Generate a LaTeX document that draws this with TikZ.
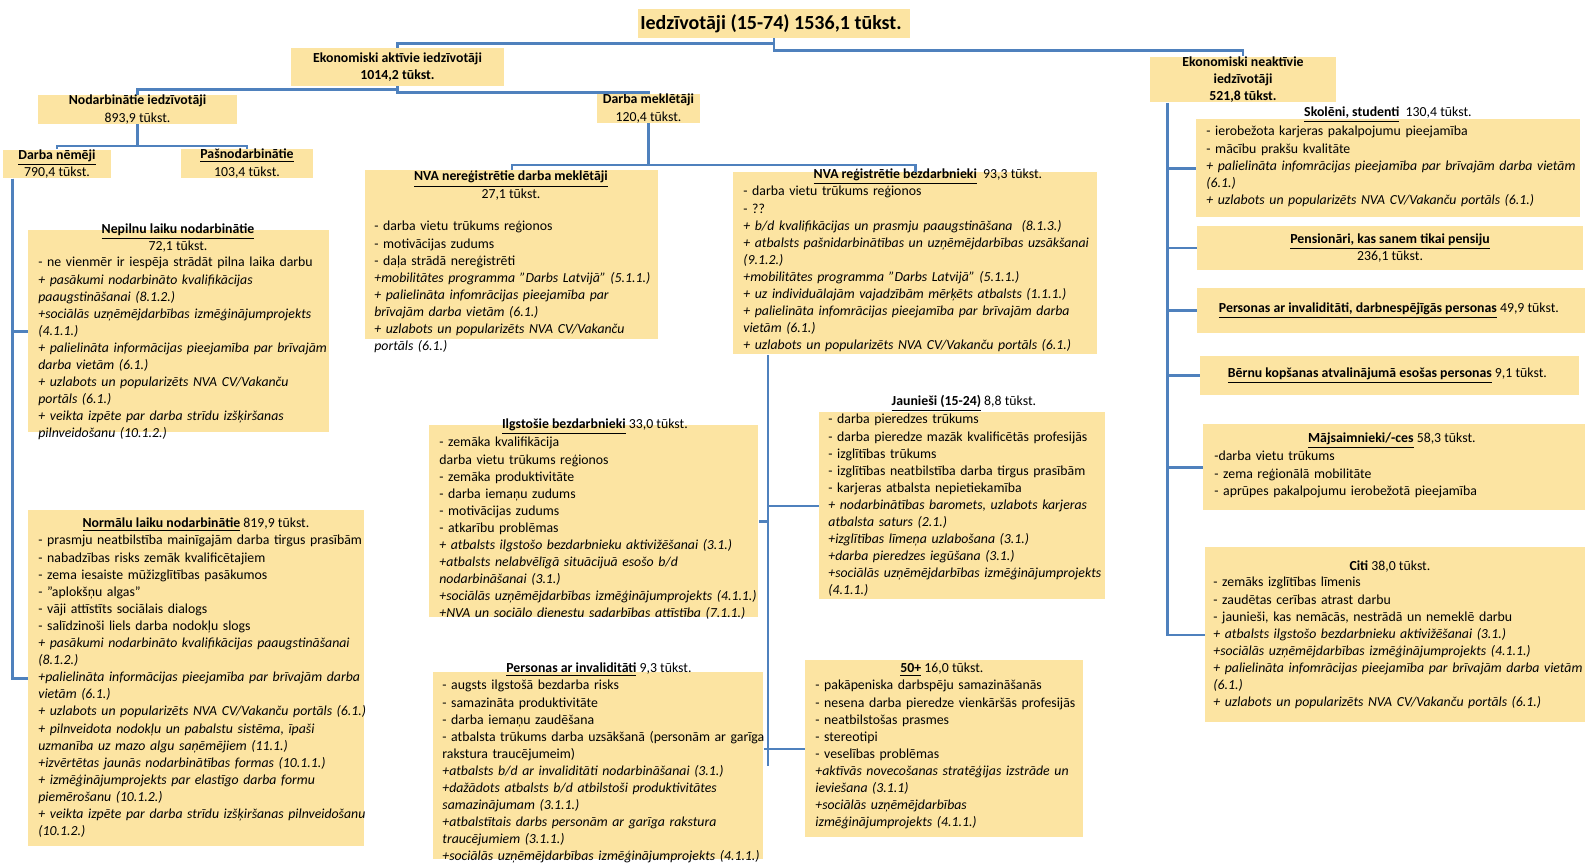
\documentclass[tikz,border=0pt]{standalone}
\usepackage{fontspec}
\setmainfont{Carlito}
\usepackage{tikz}
\usetikzlibrary{positioning}
\usetikzlibrary{calc}

\definecolor{boxgold}{RGB}{252,228,162}
\definecolor{linkblue}{RGB}{79,129,189}

\newcommand{\bodyfont}{\fontsize{6.9}{8.55}\selectfont}
\newcommand{\titlefont}{\fontsize{10}{12}\selectfont\bfseries}
\newcommand{\ubf}[1]{\underline{\textbf{#1}}}

\tikzset{
    block/.style={
           rectangle,
           fill=boxgold,
           inner sep=0pt,
           align=center,
           font=\bodyfont,
           },
    panel/.style={
           rectangle,
           fill=boxgold,
           anchor=north west,
           inner sep=0pt,
           },
    boxtitle/.style={
           inner sep=0pt,
           align=center,
           font=\bodyfont,
           },
    boxtext/.style={
           anchor=north west,
           inner sep=0pt,
           align=left,
           text width=210pt,
           font=\bodyfont,
           },
    wire/.style={
           draw=linkblue,
           line width=1.3pt,
           },
}

\begin{document}
\begin{tikzpicture}[x=0.5pt,y=-0.5pt]
 \useasboundingbox (0,0) rectangle (1585,865);

 % Top node: whole population
 \node[block,
 minimum width=136pt,
 minimum height=14.5pt,
 font=\titlefont] (pop) at (774,23.5)
 {%
Iedzīvotāji (15-74) 1536,1 tūkst.
 };

 % Next level: active / inactive
 \node[block,
 minimum width=106.5pt,
 minimum height=19pt,
 font=\bodyfont\bfseries] (aktivie) at (397.5,67)
 {%
Ekonomiski aktīvie iedzīvotāji\\1014,2 tūkst.
 };

 \node[block,
 minimum width=93pt,
 minimum height=22.5pt,
 font=\bodyfont\bfseries] (neaktivie) at (1243,79.5)
 {%
Ekonomiski neaktīvie\\iedzīvotāji\\521,8 tūkst.
 };

 % Employed / job seekers
 \node[block,
 minimum width=99.5pt,
 minimum height=13.5pt] (nodarb) at (137.5,109.5)
 {%
\textbf{Nodarbinātie iedzīvotāji}\\893,9 tūkst.
 };

 \node[block,
 minimum width=51.5pt,
 minimum height=13.5pt] (meklet) at (648.5,108.5)
 {%
\textbf{Darba meklētāji}\\120,4 tūkst.
 };

 \node[block,
 minimum width=54pt,
 minimum height=13.5pt] (nemeji) at (57,164)
 {%
\ubf{Darba nēmēji}\\790,4 tūkst.
 };

 \node[block,
 minimum width=66pt,
 minimum height=13pt] (pasnod) at (247,163.5)
 {%
\ubf{Pašnodarbinātie}\\103,4 tūkst.
 };

 % Next node: part time
 \node[panel, minimum width=150.5pt, minimum height=101pt] (nepilnu) at (28,230) {};
 \node[boxtitle] (nepilnuH) at (178,238)
 {%
\ubf{Nepilnu laiku nodarbinātie}\\72,1 tūkst.
 };
 \node[boxtext] (nepilnuT) at (38,257)
 {%
- ne vienmēr ir iespēja strādāt pilna laika darbu\\
\itshape + pasākumi nodarbināto kvalifikācijas\\
paaugstināšanai (8.1.2.)\\
+sociālās uzņēmējdarbības izmēģinājumprojekts\\
(4.1.1.)\\
+ palielināta informācijas pieejamība par brīvajām\\
darba vietām (6.1.)\\
+ uzlabots un popularizēts NVA CV/Vakanču\\
portāls (6.1.)\\
+ veikta izpēte par darba strīdu izšķiršanas\\
pilnveidošanu (10.1.2.)
 };

 % Next node: full time
 \node[panel, minimum width=168pt, minimum height=168pt] (normalu) at (28,510) {};
 \node[boxtitle] (normaluH) at (198,525)
 {%
\ubf{Normālu laiku nodarbinātie} 819,9 tūkst.
 };
 \node[boxtext] (normaluT) at (38,535)
 {%
- prasmju neatbilstība mainīgajām darba tirgus prasībām\\
- nabadzības risks zemāk kvalificētajiem\\
- zema iesaiste mūžizglītības pasākumos\\
- "aplokšņu algas"\\
- vāji attīstīts sociālais dialogs\\
- salīdzinoši liels darba nodokļu slogs\\
\itshape + pasākumi nodarbināto kvalifikācijas paaugstināšanai\\
(8.1.2.)\\
+palielināta informācijas pieejamība par brīvajām darba\\
vietām (6.1.)\\
+ uzlabots un popularizēts NVA CV/Vakanču portāls (6.1.)\\
+ pilnveidota nodokļu un pabalstu sistēma, īpaši\\
uzmanība uz mazo algu saņēmējiem (11.1.)\\
+izvērtētas jaunās nodarbinātības formas (10.1.1.)\\
+ izmēģinājumprojekts par elastīgo darba formu\\
piemērošanu (10.1.2.)\\
+ veikta izpēte par darba strīdu izšķiršanas pilnveidošanu\\
(10.1.2.)
 };

 % Next node: not registered job seekers
 \node[panel, minimum width=146.5pt, minimum height=84.5pt] (nereg) at (365,170) {};
 \node[boxtitle] (neregH) at (511,185.5)
 {%
\ubf{NVA nereģistrētie darba meklētāji}\\27,1 tūkst.
 };
 \node[boxtext] (neregT) at (374,221)
 {%
- darba vietu trūkums reģionos\\
- motivācijas zudums\\
- daļa strādā nereģistrēti\\
\itshape +mobilitātes programma "Darbs Latvijā" (5.1.1.)\\
+ palielināta infomrācijas pieejamība par\\
brīvajām darba vietām (6.1.)\\
+ uzlabots un popularizēts NVA CV/Vakanču\\
portāls (6.1.)
 };

 % Next node: registered unemployed
 \node[panel, minimum width=182pt, minimum height=91pt] (regbez) at (733,172) {};
 \node[boxtitle] (regbezH) at (930,177)
 {%
\ubf{NVA reģistrētie bezdarbnieki}\ \ 93,3 tūkst.
 };
 \node[boxtext] (regbezT) at (743,186)
 {%
- darba vietu trūkums reģionos\\
- ??\\
\itshape + b/d kvalifikācijas un prasmju paaugstināšana\ \ (8.1.3.)\\
+ atbalsts pašnidarbinātības un uzņēmējdarbības uzsākšanai\\
(9.1.2.)\\
+mobilitātes programma "Darbs Latvijā" (5.1.1.)\\
+ uz individuālajām vajadzībām mērķēts atbalsts (1.1.1.)\\
+ palielināta infomrācijas pieejamība par brīvajām darba\\
vietām (6.1.)\\
+ uzlabots un popularizēts NVA CV/Vakanču portāls (6.1.)
 };

 % Next node: long term unemployed
 \node[panel, minimum width=164.5pt, minimum height=96pt] (ilgst) at (429,425) {};
 \node[boxtitle] (ilgstH) at (597,427)
 {%
\ubf{Ilgstošie bezdarbnieki} 33,0 tūkst.
 };
 \node[boxtext] (ilgstT) at (439,437)
 {%
- zemāka kvalifikācija\\
darba vietu trūkums reģionos\\
- zemāka produktivitāte\\
- darba iemaņu zudums\\
- motivācijas zudums\\
- atkarību problēmas\\
\itshape + atbalsts ilgstošo bezdarbnieku aktivižēšanai (3.1.)\\
+atbalsts nelabvēlīgā situācijuā esošo b/d\\
nodarbināšanai (3.1.)\\
+sociālās uzņēmējdarbības izmēģinājumprojekts (4.1.1.)\\
+NVA un sociālo dienestu sadarbības attīstība (7.1.1.)
 };

 % Next node: youth
 \node[panel, minimum width=143pt, minimum height=93.5pt] (jaun) at (819,412) {};
 \node[boxtitle] (jaunH) at (966,403)
 {%
\ubf{Jaunieši (15-24)} 8,8 tūkst.
 };
 \node[boxtext] (jaunT) at (828,414)
 {%
- darba pieredzes trūkums\\
- darba pieredze mazāk kvalificētās profesijās\\
- izglītības trūkums\\
- izglītības neatbilstība darba tirgus prasībām\\
- karjeras atbalsta nepietiekamība\\
\itshape + nodarbinātības baromets, uzlabots karjeras\\
atbalsta saturs (2.1.)\\
+izglītības līmeņa uzlabošana (3.1.)\\
+darba pieredzes iegūšana (3.1.)\\
+sociālās uzņēmējdarbības izmēģinājumprojekts\\
(4.1.1.)
 };

 % Next node: disabled unemployed
 \node[panel, minimum width=165pt, minimum height=93.5pt] (pinv) at (433,672) {};
 \node[boxtitle] (pinvH) at (601,670)
 {%
\ubf{Personas ar invaliditāti} 9,3 tūkst.
 };
 \node[boxtext] (pinvT) at (442,680)
 {%
- augsts ilgstošā bezdarba risks\\
- samazināta produktivitāte\\
- darba iemaņu zaudēšana\\
- atbalsta trūkums darba uzsākšanā (personām ar garīga\\
rakstura traucējumeim)\\
\itshape +atbalsts b/d ar invaliditāti nodarbināšanai (3.1.)\\
+dažādots atbalsts b/d atbilstoši produktivitātes\\
samazinājumam (3.1.1.)\\
+atbalstītais darbs personām ar garīga rakstura\\
traucējumiem (3.1.1.)\\
+sociālās uzņēmējdarbības izmēģinājumprojekts (4.1.1.)
 };

 % Next node: 50+
 \node[panel, minimum width=139pt, minimum height=88.5pt] (p50) at (805,660) {};
 \node[boxtitle] (p50H) at (944,670)
 {%
\ubf{50+} 16,0 tūkst.
 };
 \node[boxtext] (p50T) at (815,680)
 {%
- pakāpeniska darbspēju samazināšanās\\
- nesena darba pieredze vienkāršās profesijās\\
- neatbilstošas prasmes\\
- stereotipi\\
- veselības problēmas\\
\itshape +aktīvās novecošanas stratēģijas izstrāde un\\
ieviešana (3.1.1)\\
+sociālās uzņēmējdarbības\\
izmēģinājumprojekts (4.1.1.)
 };

 % Inactive: pupils, students
 \node[panel, minimum width=192pt, minimum height=49pt] (skoleni) at (1196,119) {};
 \node[boxtitle] (skoleniH) at (1390,115)
 {%
\ubf{Skolēni, studenti}\ \ 130,4 tūkst.
 };
 \node[boxtext] (skoleniT) at (1206,126)
 {%
- ierobežota karjeras pakalpojumu pieejamība\\
- mācību prakšu kvalitāte\\
\itshape + palielināta infomrācijas pieejamība par brīvajām darba vietām\\
(6.1.)\\
+ uzlabots un popularizēts NVA CV/Vakanču portāls (6.1.)
 };

 \node[block,
 minimum width=193pt,
 minimum height=22pt] (pension) at (1390,248)
 {%
\ubf{Pensionāri, kas sanem tikai pensiju}\\236,1 tūkst.
 };

 \node[block,
 minimum width=194pt,
 minimum height=22.5pt] (darbnesp) at (1391,310.5)
 {%
\ubf{Personas ar invaliditāti, darbnespējīgās personas} 49,9 tūkst.
 };

 \node[block,
 minimum width=189.5pt,
 minimum height=19.5pt] (bernu) at (1389.5,375.5)
 {%
\ubf{Bērnu kopšanas atvalinājumā esošas personas} 9,1 tūkst.
 };

 % Next node: housekeepers
 \node[panel, minimum width=191pt, minimum height=43pt] (majs) at (1203,424) {};
 \node[boxtitle] (majsH) at (1394,441)
 {%
\ubf{Mājsaimnieki/-ces} 58,3 tūkst.
 };
 \node[boxtext] (majsT) at (1214,451)
 {%
-darba vietu trūkums\\
- zema reģionālā mobilitāte\\
- aprūpes pakalpojumu ierobežotā pieejamība
 };

 % Next node: others
 \node[panel, minimum width=190pt, minimum height=87.5pt] (citi) at (1205,547) {};
 \node[boxtitle] (citiH) at (1392,567)
 {%
\textbf{Citi} 38,0 tūkst.
 };
 \node[boxtext] (citiT) at (1213,577)
 {%
- zemāks izglītības līmenis\\
- zaudētas cerības atrast darbu\\
- jaunieši, kas nemācās, nestrādā un nemeklē darbu\\
\itshape + atbalsts ilgstošo bezdarbnieku aktivižēšanai (3.1.)\\
+sociālās uzņēmējdarbības izmēģinājumprojekts (4.1.1.)\\
+ palielināta infomrācijas pieejamība par brīvajām darba vietām\\
(6.1.)\\
+ uzlabots un popularizēts NVA CV/Vakanču portāls (6.1.)
 };

 % draw the paths
 \draw[wire] (pop.south) -- ++(0,5) -| (aktivie.north);
 \draw[wire] (pop.south) -- ++(0,12) -| (neaktivie.north);
 \draw[wire] (aktivie.south) -- ++(0,3) -| (nodarb.north);
 \draw[wire] (aktivie.south) -- ++(0,6) -| (meklet.north);
 \draw[wire] (nodarb.south) -- ++(0,22) -| (nemeji.north);
 \draw[wire] (nodarb.south) -- ++(0,22) -| (pasnod.north);
 \draw[wire] (meklet.south) -- ++(0,42) -| (nereg.north);
 \draw[wire] (meklet.south) -- ++(0,42) -| (regbez.north);

 % rails down the side
 \coordinate (nemrail) at ([xshift=5pt]nemeji.south west);
 \draw[wire] (nemrail) |- (nepilnu.west);
 \draw[wire] (nemrail) |- (normalu.west);

 \coordinate (regrail) at ([xshift=17.5pt]regbez.south west);
 \draw[wire] (regrail) -- (regrail |- pinv.east);
 \draw[wire] (regrail |- ilgst.east) -- (ilgst.east);
 \draw[wire] (regrail |- jaun.west) -- (jaun.west);
 \draw[wire] (pinv.east |- p50.west) -- (p50.west);

 \coordinate (neakrail) at ([xshift=9pt]neaktivie.south west);
 \draw[wire] (neakrail) |- (citi.west);
 \draw[wire] (neakrail |- skoleni.west) -- (skoleni.west);
 \draw[wire] (neakrail |- pension.west) -- (pension.west);
 \draw[wire] (neakrail |- darbnesp.west) -- (darbnesp.west);
 \draw[wire] (neakrail |- bernu.west) -- (bernu.west);
 \draw[wire] (neakrail |- majs.west) -- (majs.west);

\end{tikzpicture}
\end{document}
